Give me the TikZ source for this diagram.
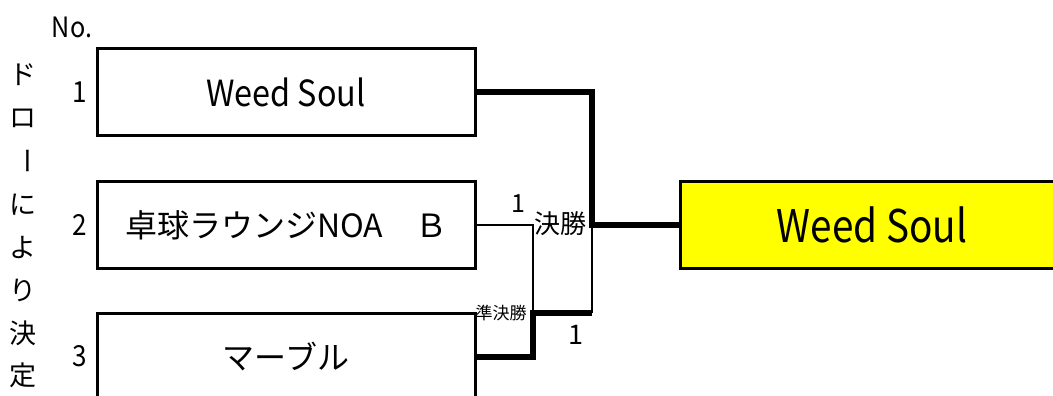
\documentclass[tikz,border=0pt]{standalone}
\usepackage{fontspec}
\setmainfont{Noto Sans CJK JP}
\newfontfamily\narrowfont[FakeStretch=0.9]{Noto Sans CJK JP}
\newfontfamily\narrowerfont[FakeStretch=0.86]{Noto Sans CJK JP}
\newcommand{\fs}[1]{\fontsize{#1}{#1}\selectfont}
\definecolor{winyellow}{RGB}{255,255,0}
\tikzset{
  teambox/.style={draw, line width=3pt, fill=white, minimum width=378pt, minimum height=87pt, inner sep=0pt, outer sep=0pt},
  winbox/.style={draw, line width=3pt, fill=winyellow, minimum width=384pt, minimum height=87pt, inner sep=0pt, outer sep=0pt},
  win/.style={line width=6pt, line join=miter},
  lose/.style={line width=2pt},
  lbl/.style={inner sep=0pt, outer sep=0pt},
  vchar/.style={inner sep=0pt, font=\fs{27}},
}
\begin{document}
\begin{tikzpicture}[x=1pt,y=-1pt]
\useasboundingbox (0,0) rectangle (1053,396);
\clip (0,0) rectangle (1053,396);
% header
\node[lbl, font=\narrowfont\fs{28}] (no) at (72,27) {No.};
% vertical text
\node[vchar] (v1) at (23,75) {ド};
\node[vchar] (v2) at (23,118) {ロ};
\node[vchar, rotate=-90] (v3) at (23,161) {ー};
\node[vchar] (v4) at (23,205) {に};
\node[vchar] (v5) at (23,248) {よ};
\node[vchar] (v6) at (23,290) {り};
\node[vchar] (v7) at (23,333) {決};
\node[vchar] (v8) at (23,375) {定};
% numbers
\node[lbl, font=\narrowfont\fs{29}] (n1) at (80,92) {1};
\node[lbl, font=\narrowfont\fs{29}] (n2) at (80,225) {2};
\node[lbl, font=\narrowfont\fs{29}] (n3) at (80,356) {3};
% teams
\node[teambox] (t1) at (286,92) {\narrowfont\fs{36}Weed Soul};
\node[teambox] (t2) at (286,225) {\fs{32}卓球ラウンジNOA　Ｂ};
\node[teambox] (t3) at (286,357) {\fs{32}マーブル};
\node[winbox] (w) at (872,225) {\narrowerfont\fs{45}Weed Soul};
% junctions
\coordinate (f) at (592,225);
\coordinate (s) at (533,313);
\coordinate (sf) at (592,313);
% connectors
\draw[lose] (t2.east) -| (s);
\draw[lose] (sf) -- (f);
\draw[win] (t3.east) -| (s) -- (sf);
\draw[win] (t1.east) -| (f) -- (w.west);
% labels
\node[lbl, font=\fs{25}] (s1) at (518,204) {1};
\node[lbl, font=\fs{26}] (fl) at (560,224) {決勝};
\node[lbl, font=\fs{17}] (sl) at (501,313) {準決勝};
\node[lbl, font=\fs{27}] (s2) at (576,335) {1};
\end{tikzpicture}
\end{document}
